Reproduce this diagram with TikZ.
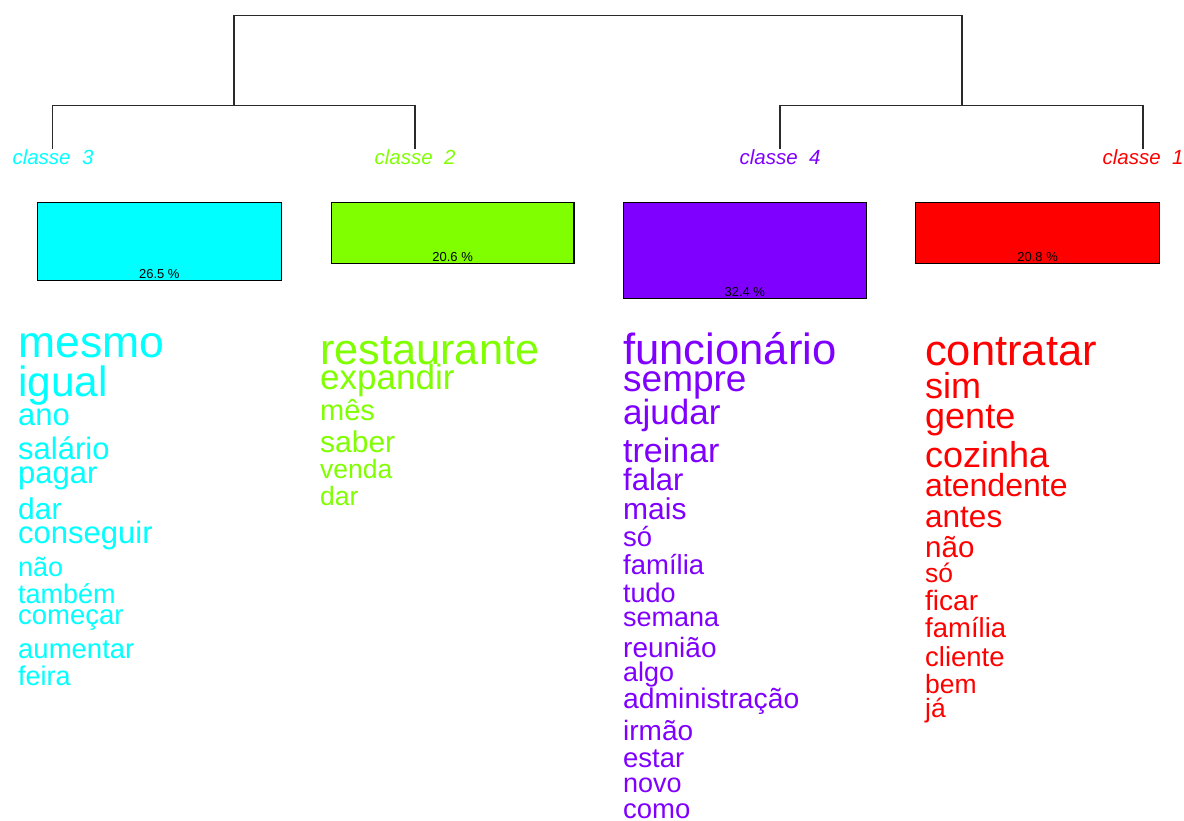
\documentclass[tikz,border=0pt]{standalone}
\usepackage{fontspec}
\setmainfont{Liberation Sans}
\definecolor{cthree}{HTML}{00FFFF}
\definecolor{ctwo}{HTML}{80FF00}
\definecolor{cfour}{HTML}{8000FF}
\definecolor{cone}{HTML}{FF0000}
\definecolor{dline}{HTML}{2A2A2A}
\tikzset{
  fs/.style={font=\fontsize{#1}{#1}\selectfont},
  word/.style={anchor=base west, inner sep=0pt},
  cls/.style={anchor=base, inner sep=0pt, font=\fontsize{20.5}{20.5}\selectfont\itshape},
  box/.style={draw=black, line width=1.2pt, anchor=north west, inner sep=0pt, minimum width=244pt},
  pct/.style={anchor=base, inner sep=0pt, text=black, font=\fontsize{13}{13}\selectfont},
  dendro/.style={draw=dline, line width=1.4pt}
}
\begin{document}
\begin{tikzpicture}[x=1pt,y=-1pt]
\useasboundingbox (0,0) rectangle (1184,821);
% dendrogram
\coordinate (top) at (598,15.7);
\coordinate (n32) at (234,105.7);
\coordinate (n41) at (962,105.7);
\coordinate (leaf3) at (52.3,149);
\coordinate (leaf2) at (415,149);
\coordinate (leaf4) at (780,149);
\coordinate (leaf1) at (1143,149);
\draw[dendro] (leaf3) |- (n32) -| (leaf2);
\draw[dendro] (leaf4) |- (n41) -| (leaf1);
\draw[dendro] (n32) |- (top) -| (n41);
% class labels
\node[cls, text=cthree] (l3) at (53,165) {classe\ \ 3};
\node[cls, text=ctwo] (l2) at (415,165) {classe\ \ 2};
\node[cls, text=cfour] (l4) at (780,165) {classe\ \ 4};
\node[cls, text=cone] (l1) at (1143,165) {classe\ \ 1};
% boxes
\node[box, fill=cthree, minimum height=77.7pt] (b3) at (36.7,202.3) {};
\node[box, fill=ctwo, minimum width=242.6pt, minimum height=61pt] (b2) at (330.7,202.3) {};
\node[box, fill=cfour, minimum width=243pt, minimum height=95.4pt] (b4) at (622.7,202.3) {};
\node[box, fill=cone, minimum height=60.4pt] (b1) at (915,202.3) {};
\node[pct] (p3) at ([yshift=2.6pt]b3.south) {26.5 \%};
\node[pct] (p2) at ([yshift=2.6pt]b2.south) {20.6 \%};
\node[pct] (p4) at ([yshift=2.6pt]b4.south) {32.4 \%};
\node[pct] (p1) at ([yshift=2.6pt]b1.south) {20.8 \%};
% classe 3 words
\begin{scope}[every node/.style={word, text=cthree}]
\node[fs=44.5] (w3a) at (18,357) {mesmo};
\node[fs=42.4] (w3b) at (18,396) {igual};
\node[fs=31] (w3c) at (18,425) {ano};
\node[fs=31] (w3d) at (18,459) {salário};
\node[fs=31] (w3e) at (18,483) {pagar};
\node[fs=30] (w3f) at (18,519) {dar};
\node[fs=31] (w3g) at (18,543) {conseguir};
\node[fs=27] (w3h) at (18,576) {não};
\node[fs=27] (w3i) at (18,603) {também};
\node[fs=27.5] (w3j) at (18,624) {começar};
\node[fs=27.5] (w3k) at (18,658) {aumentar};
\node[fs=27] (w3l) at (18,685) {feira};
\end{scope}
% classe 2 words
\begin{scope}[every node/.style={word, text=ctwo}]
\node[fs=43.3] (w2a) at (320,364) {restaurante};
\node[fs=35] (w2b) at (320,389) {expandir};
\node[fs=29] (w2c) at (320,420) {mês};
\node[fs=30] (w2d) at (320,452) {saber};
\node[fs=26.5] (w2e) at (320,478) {venda};
\node[fs=26.5] (w2f) at (320,505) {dar};
\end{scope}
% classe 4 words
\begin{scope}[every node/.style={word, text=cfour}]
\node[fs=43.6] (w4a) at (623,364) {funcionário};
\node[fs=37] (w4b) at (623,391) {sempre};
\node[fs=35] (w4c) at (623,424) {ajudar};
\node[fs=34] (w4d) at (623,462) {treinar};
\node[fs=31] (w4e) at (623,490) {falar};
\node[fs=30] (w4f) at (623,519) {mais};
\node[fs=27.5] (w4g) at (623,546) {só};
\node[fs=27.5] (w4h) at (623,574) {família};
\node[fs=27] (w4i) at (623,602) {tudo};
\node[fs=27] (w4j) at (623,626) {semana};
\node[fs=28] (w4k) at (623,657) {reunião};
\node[fs=27] (w4l) at (623,681) {algo};
\node[fs=28.3] (w4m) at (623,708) {administração};
\node[fs=28] (w4n) at (623,740) {irmão};
\node[fs=27.5] (w4o) at (623,767) {estar};
\node[fs=27] (w4p) at (623,792) {novo};
\node[fs=27.5] (w4q) at (623,818) {como};
\end{scope}
% classe 1 words
\begin{scope}[every node/.style={word, text=cone}]
\node[fs=43.5] (w1a) at (925,365) {contratar};
\node[fs=36] (w1b) at (925,398) {sim};
\node[fs=36] (w1c) at (925,428) {gente};
\node[fs=36] (w1d) at (925,467) {cozinha};
\node[fs=32] (w1e) at (925,496) {atendente};
\node[fs=31.5] (w1f) at (925,527) {antes};
\node[fs=29.5] (w1g) at (925,557) {não};
\node[fs=26.5] (w1h) at (925,582) {só};
\node[fs=28] (w1i) at (925,610) {ficar};
\node[fs=27.5] (w1j) at (925,637) {família};
\node[fs=27.5] (w1k) at (925,666) {cliente};
\node[fs=26.5] (w1l) at (925,693) {bem};
\node[fs=26.5] (w1m) at (925,717) {já};
\end{scope}
\end{tikzpicture}
\end{document}
